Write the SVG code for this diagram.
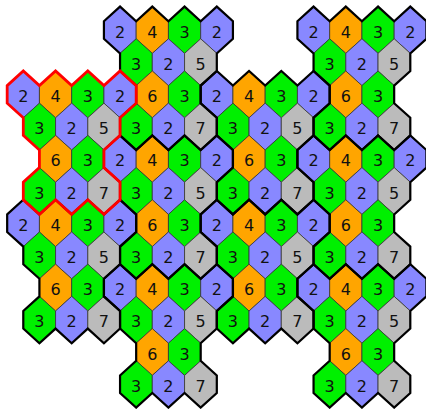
<svg xmlns="http://www.w3.org/2000/svg" xmlns:xlink="http://www.w3.org/1999/xlink" width="426" height="409" viewBox="0 0 426 409">
<style>
.hx{stroke:#333;stroke-width:0.8;stroke-linejoin:round}
.b{fill:#8888ff}.o{fill:#ffa500}.g{fill:#00f000}.y{fill:#bbbbbb}
text{font-family:"DejaVu Sans","Liberation Sans",sans-serif;font-size:16px;text-anchor:middle;fill:#111}
.ol{fill:none;stroke:#000;stroke-width:2.2;stroke-linejoin:miter}
.red{fill:none;stroke:#ff0000;stroke-width:2.8;stroke-linejoin:miter}
</style>
<defs>
<polygon id="hex" class="hx" points="0,-23.4 16.125,-8.8 16.125,8.8 0,23.4 -16.125,8.8 -16.125,-8.8"/>
<path id="outline" d="M-16.125,-8.8 L0,-23.4 L16.125,-8.8 L32.25,-23.4 L48.375,-8.8 L64.5,-23.4 L80.625,-8.8 L96.75,-23.4 L112.875,-8.8 L112.875,8.8 L96.75,23.4 L96.75,41 L80.625,55.6 L80.625,73.2 L96.75,87.8 L96.75,105.4 L80.625,120 L64.5,105.4 L48.375,120 L32.25,105.4 L16.125,120 L0,105.4 L0,87.8 L16.125,73.2 L16.125,55.6 L0,41 L0,23.4 L-16.125,8.8 Z"/>
<g id="tile">
<g transform="translate(0,0)"><use href="#hex" class="b"/><text y="7.5">2</text></g>
<g transform="translate(32.25,0)"><use href="#hex" class="o"/><text y="7.5">4</text></g>
<g transform="translate(64.5,0)"><use href="#hex" class="g"/><text y="7.5">3</text></g>
<g transform="translate(96.75,0)"><use href="#hex" class="b"/><text y="7.5">2</text></g>
<g transform="translate(16.125,32.2)"><use href="#hex" class="g"/><text y="7.5">3</text></g>
<g transform="translate(48.375,32.2)"><use href="#hex" class="b"/><text y="7.5">2</text></g>
<g transform="translate(80.625,32.2)"><use href="#hex" class="y"/><text y="7.5">5</text></g>
<g transform="translate(32.25,64.4)"><use href="#hex" class="o"/><text y="7.5">6</text></g>
<g transform="translate(64.5,64.4)"><use href="#hex" class="g"/><text y="7.5">3</text></g>
<g transform="translate(16.125,96.6)"><use href="#hex" class="g"/><text y="7.5">3</text></g>
<g transform="translate(48.375,96.6)"><use href="#hex" class="b"/><text y="7.5">2</text></g>
<g transform="translate(80.625,96.6)"><use href="#hex" class="y"/><text y="7.5">7</text></g>
</g>
</defs>
<g id="tiles">
<g id="tile-r2-c0"><use href="#tile" transform="translate(23.3,94.4)"/></g>
<g id="tile-r6-c0"><use href="#tile" transform="translate(23.3,223.2)"/></g>
<g id="tile-r0-c3"><use href="#tile" transform="translate(120.05,30)"/></g>
<g id="tile-r4-c3"><use href="#tile" transform="translate(120.05,158.8)"/></g>
<g id="tile-r8-c3"><use href="#tile" transform="translate(120.05,287.6)"/></g>
<g id="tile-r2-c6"><use href="#tile" transform="translate(216.8,94.4)"/></g>
<g id="tile-r6-c6"><use href="#tile" transform="translate(216.8,223.2)"/></g>
<g id="tile-r0-c9"><use href="#tile" transform="translate(313.55,30)"/></g>
<g id="tile-r4-c9"><use href="#tile" transform="translate(313.55,158.8)"/></g>
<g id="tile-r8-c9"><use href="#tile" transform="translate(313.55,287.6)"/></g>
</g>
<g id="outlines">
<use href="#outline" class="ol" transform="translate(23.3,223.2)"/>
<use href="#outline" class="ol" transform="translate(120.05,30)"/>
<use href="#outline" class="ol" transform="translate(120.05,158.8)"/>
<use href="#outline" class="ol" transform="translate(120.05,287.6)"/>
<use href="#outline" class="ol" transform="translate(216.8,94.4)"/>
<use href="#outline" class="ol" transform="translate(216.8,223.2)"/>
<use href="#outline" class="ol" transform="translate(313.55,30)"/>
<use href="#outline" class="ol" transform="translate(313.55,158.8)"/>
<use href="#outline" class="ol" transform="translate(313.55,287.6)"/>
<use href="#outline" class="red" transform="translate(23.3,94.4)"/>
</g>
</svg>
